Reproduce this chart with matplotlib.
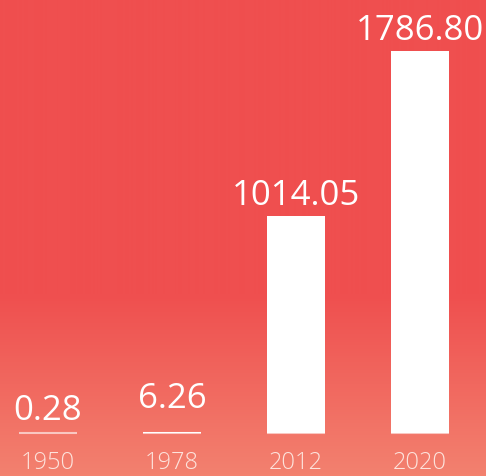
import numpy as np
import matplotlib.pyplot as plt
from matplotlib.colors import LinearSegmentedColormap

years = ['1950', '1978', '2012', '2020']
values = [0.28, 6.26, 1014.05, 1786.80]
labels = ['0.28', '6.26', '1014.05', '1786.80']

fig = plt.figure(figsize=(4.86, 4.77), dpi=100)
ax = fig.add_axes([0, 0, 1, 1])

# background: flat red, fading lighter toward the bottom
xlim = (-0.387, 3.532)
ylim = (-201, 2030)
grad = np.linspace(0, 1, 477).reshape(-1, 1)  # row 0 = top
cmap = LinearSegmentedColormap.from_list('bg', [(0, '#ef4f4f'), (0.62, '#ef4f4f'), (1, '#f3816f')])
ax.imshow(grad, aspect='auto', cmap=cmap, extent=(xlim[0], xlim[1], ylim[0], ylim[1]),
          origin='upper', zorder=0, vmin=0, vmax=1)

x = np.arange(len(years))
ax.bar(x, values, width=0.47, color='white', zorder=2)
# thin base line under each bar
for xi in x:
    ax.plot([xi - 0.235, xi + 0.235], [0, 0], color='white', lw=1.5, alpha=0.6, zorder=2,
            solid_capstyle='butt')

lift = [4, 12, 3, 3]  # 6.26 sits a bit higher in the original
for xi, v, lab in zip(x, values, labels):
    ax.annotate(lab, (xi, v), xytext=(0, lift[xi]), textcoords='offset points', ha='center',
                va='bottom', color='white', fontsize=25, family='Open Sans')
    ax.text(xi, -165, years[xi], ha='center', va='baseline', color='#fde3dc',
            fontsize=17, family='Open Sans', fontweight='light')

ax.set_xlim(*xlim)
ax.set_ylim(*ylim)
ax.axis('off')
fig.savefig('out.png', dpi=100)
